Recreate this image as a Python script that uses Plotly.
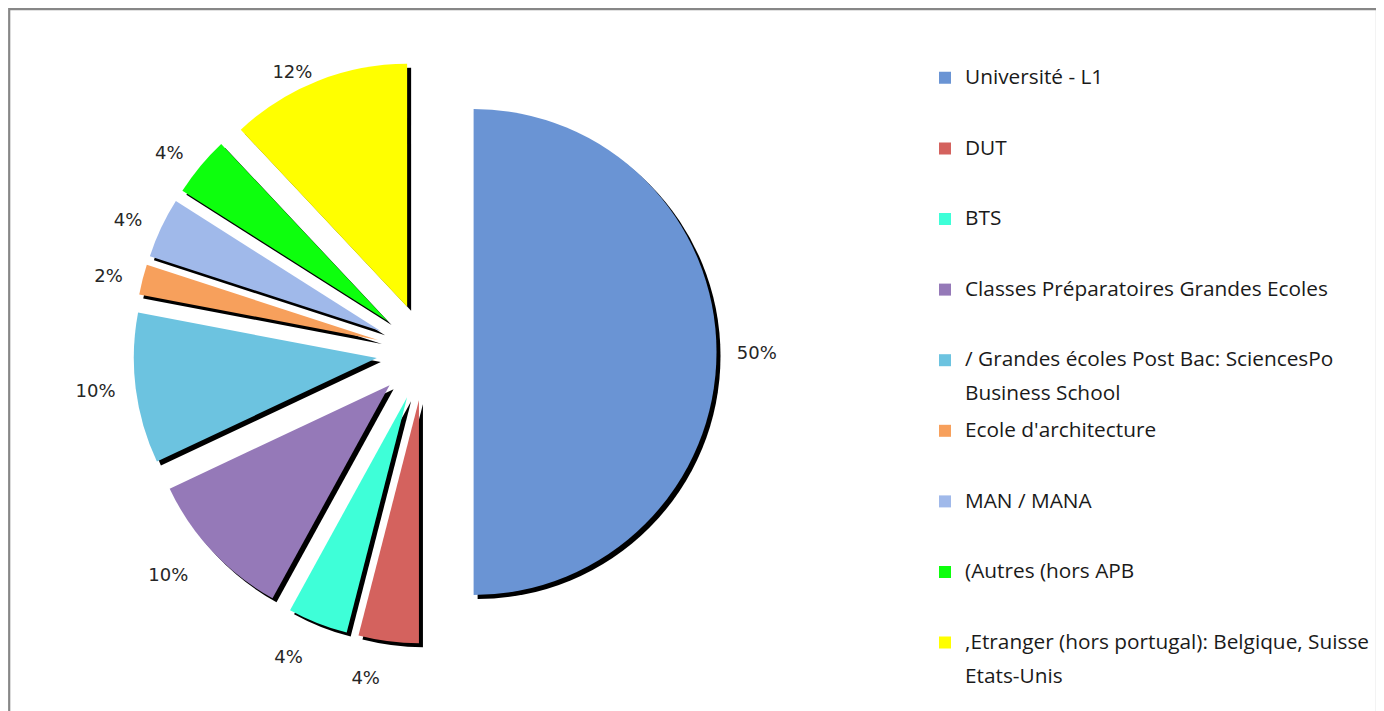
import plotly.graph_objects as go

# ---- data ----
categories = [
    "Université - L1",
    "DUT",
    "BTS",
    "Classes Préparatoires Grandes Ecoles",
    "/ Grandes écoles Post Bac: SciencesPo<br>Business School",
    "Ecole d'architecture",
    "MAN / MANA",
    "(Autres (hors APB",
    ",Etranger (hors portugal): Belgique, Suisse<br>Etats-Unis",
]
values = [50, 4, 4, 10, 10, 2, 4, 4, 12]
colors = ["#6a94d4", "#d4625e", "#3effd8", "#9579b8", "#6cc3e0",
          "#f7a05c", "#a0b9ea", "#0dff0d", "#ffff00"]

W, H = 1384, 711
OFF = 8             # page body margin: screen px -> figure px
NB = "\u00a0"
LEG_BASE = 26       # controls line spacing of legend rows
LEG_TEXT = 20.8     # visible text size


def pad(label, lines=2):
    parts = label.split("<br>")
    styled = "<br>".join(
        "<span style='font-size:%spx;baseline-shift:4px'>%s</span>" % (LEG_TEXT, p) for p in parts)
    n = len(parts)
    return styled + ("<br>" + NB) * max(0, lines - n)


legend_labels = [pad(c) for c in categories]


def fx(px):
    return (px - OFF) / W


def fy(py):
    return 1 - (py - OFF) / H


# pie geometry in screen pixels
cx, cy, r, pull = 425, 352, 243, 0.2
half = r * (1 + pull)
dom_x = [fx(cx - half), fx(cx + half)]
dom_y = [fy(cy + half), fy(cy - half)]
sdx, sdy = 4 / W, 4 / H

n = len(values)
common = dict(values=values, sort=False, direction="clockwise", rotation=0)

fig = go.Figure()

# shadow pie
fig.add_trace(go.Pie(
    labels=["shadow %d" % i for i in range(n)], **common,
    pull=[pull] * n,
    marker=dict(colors=["#000000"] * n, line=dict(width=0)),
    textinfo="none", hoverinfo="skip", showlegend=False,
    domain=dict(x=[dom_x[0] + sdx, dom_x[1] + sdx], y=[dom_y[0] - sdy, dom_y[1] - sdy]),
))

# main pie
fig.add_trace(go.Pie(
    labels=legend_labels, **common,
    pull=[pull] * n,
    marker=dict(colors=colors, line=dict(width=0)),
    textinfo="none",
    hoverinfo="percent",
    domain=dict(x=dom_x, y=dom_y),
))


# transparent pies carrying the percentage labels (split so labels never get scooted)
def label_pie(show, extra):
    lr = half + extra
    return go.Pie(
        labels=["label %d" % i for i in range(n)], **common,
        marker=dict(colors=["rgba(0,0,0,0)"] * n, line=dict(width=0)),
        texttemplate="%{percent:.0%}",
        textposition=["outside" if s else "none" for s in show],
        outsidetextfont=dict(family="DejaVu Sans", size=18, color="#262626"),
        hoverinfo="skip", showlegend=False,
        domain=dict(x=[fx(cx - lr), fx(cx + lr)], y=[fy(cy + lr), fy(cy - lr)]),
    )


fig.add_trace(label_pie([i not in (1, 2, 3, 8) for i in range(n)], 15))
fig.add_trace(label_pie([i in (1, 2, 3) for i in range(n)], 26))
fig.add_trace(label_pie([i == 8 for i in range(n)], 0))

fig.update_layout(
    width=W, height=H,
    margin=dict(l=0, r=0, t=0, b=0, autoexpand=False),
    paper_bgcolor="white",
    plot_bgcolor="white",
    showlegend=True,
    legend=dict(
        x=fx(925), xanchor="left",
        y=fy(54.4), yanchor="top",
        valign="top",
        font=dict(family="Open Sans", size=LEG_BASE, color="#1a1a1a"),
        bgcolor="rgba(0,0,0,0)",
        itemclick=False, itemdoubleclick=False,
    ),
    shapes=[dict(type="rect", xref="paper", yref="paper",
                 x0=1.2 / W, x1=fx(1377), y0=-0.05, y1=1 - 1.2 / H,
                 line=dict(color="#878787", width=2.2), fillcolor="rgba(0,0,0,0)")],
)

fig.write_html("out.html")
